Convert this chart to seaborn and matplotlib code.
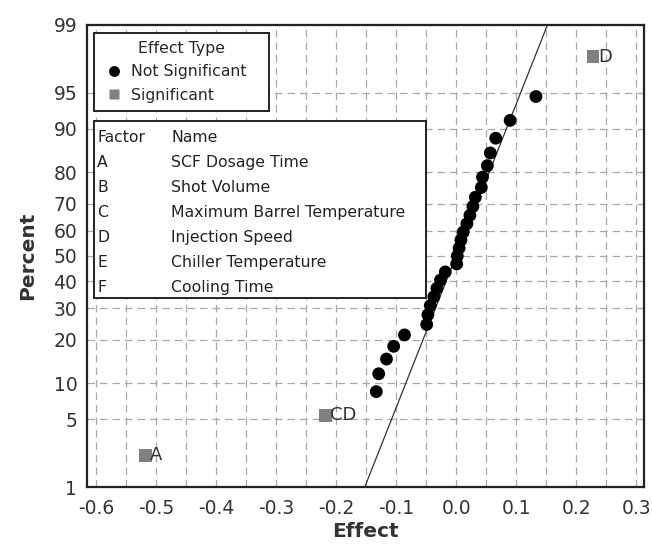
"""
Normal probability plot of the standardized effects (Minitab style)
"""

import numpy as np
import pandas as pd
import matplotlib
matplotlib.use("Agg")
import matplotlib.pyplot as plt
from matplotlib.ticker import MultipleLocator, FixedLocator
from matplotlib.patches import Rectangle
import seaborn as sns
from statistics import NormalDist

# ── data ──────────────────────────────────────────────────────────────────────
effects = [
    -0.518, -0.218, -0.133, -0.129, -0.116, -0.104, -0.086, -0.049,
    -0.047, -0.043, -0.037, -0.032, -0.026, -0.018, 0.001, 0.002,
    0.005, 0.008, 0.012, 0.018, 0.023, 0.028, 0.032, 0.042,
    0.044, 0.052, 0.057, 0.066, 0.090, 0.133, 0.228,
]
effect_type = ["Significant", "Significant"] + ["Not Significant"] * 28 + ["Significant"]
point_labels = ["A", "CD"] + [""] * 28 + ["D"]

line_sigma = 0.0654   # slope of the reference line (Lenth PSE)

factors = ["A", "B", "C", "D", "E", "F"]
factor_names = ["SCF Dosage Time", "Shot Volume", "Maximum Barrel Temperature",
                "Injection Speed", "Chiller Temperature", "Cooling Time"]

y_ticks = [1, 5, 10, 20, 30, 40, 50, 60, 70, 80, 90, 95, 99]
x_ticks = [-0.6, -0.5, -0.4, -0.3, -0.2, -0.1, 0.0, 0.1, 0.2, 0.3]

# ── normal probability scale ─────────────────────────────────────────────────
_nd = NormalDist()
_ppf = np.vectorize(lambda v: _nd.inv_cdf(v), otypes=[float])
_cdf = np.vectorize(lambda v: _nd.cdf(v), otypes=[float])


def pct_to_z(p):
    p = np.clip(np.asarray(p, dtype=float), 1e-9, 100 - 1e-9)
    return _ppf(p / 100.0)


def z_to_pct(z):
    return _cdf(np.asarray(z, dtype=float)) * 100.0


n = len(effects)
df = pd.DataFrame({"Effect": effects, "Effect Type": effect_type, "label": point_labels})
df["rank"] = np.arange(1, n + 1)
df["Percent"] = 100.0 * (df["rank"] - 0.3) / (n + 0.4)

line_pct = np.array([1.0, 99.0])
line_eff = line_sigma * pct_to_z(line_pct)

# ── plot ──────────────────────────────────────────────────────────────────────
sns.set_style("white")
plt.rcParams["font.family"] = ["DejaVu Sans"]
plt.rcParams["axes.unicode_minus"] = False

fig = plt.figure(figsize=(6.52, 5.48), dpi=100)
ax = fig.add_axes([0.1334, 0.1113, 0.8543, 0.8431])
ax.set_yscale("function", functions=(pct_to_z, z_to_pct))

sns.lineplot(x=line_eff, y=line_pct, ax=ax, color="#333333", lw=0.9, zorder=2)

sns.scatterplot(
    data=df, x="Effect", y="Percent", hue="Effect Type", style="Effect Type",
    hue_order=["Not Significant", "Significant"],
    palette={"Not Significant": "black", "Significant": "#808080"},
    markers={"Not Significant": "o", "Significant": "s"},
    s=85, edgecolor="none", ax=ax, zorder=3, clip_on=False,
)

for _, r in df[df["label"] != ""].iterrows():
    ax.annotate(r["label"], (r["Effect"], r["Percent"]), xytext=(3.5, 0),
                textcoords="offset points", va="center", ha="left",
                fontsize=13, color="#333333")

ax.set_xlim(-0.615, 0.313)
ax.set_ylim(1, 99)
ax.yaxis.set_major_locator(FixedLocator(y_ticks))
ax.set_yticklabels([str(v) for v in y_ticks])
ax.yaxis.set_minor_locator(FixedLocator([]))
ax.set_xticks(x_ticks)
ax.set_xticklabels([f"{v:.1f}" for v in x_ticks])
ax.xaxis.set_minor_locator(MultipleLocator(0.05))

grid_kw = dict(color="#a8a8a8", linestyle=(0, (6, 4)), linewidth=0.9)
ax.grid(True, which="major", axis="y", **grid_kw)
ax.grid(True, which="both", axis="x", **grid_kw)
ax.set_axisbelow(True)

ax.tick_params(axis="both", which="major", direction="out", length=5, width=1.2,
               colors="#222222", labelsize=13.5, labelcolor="#333333")
ax.tick_params(axis="y", which="major", pad=2)
ax.tick_params(axis="x", which="minor", length=0)
for s in ax.spines.values():
    s.set_color("#222222")
    s.set_linewidth(1.6)

ax.set_xlabel("Effect", fontsize=14.5, fontweight="bold", color="#333333", labelpad=3)
ax.set_ylabel("Percent", fontsize=14.5, fontweight="bold", color="#333333", labelpad=12)

# legend: effect type
leg = ax.legend(title="Effect Type", loc="upper left",
                bbox_to_anchor=(0.0126, 0.807, 0.314, 0.176), mode="expand",
                frameon=True, fancybox=False, edgecolor="#222222", fontsize=11.3,
                title_fontsize=11.3, borderpad=0.5, handletextpad=0.25,
                labelspacing=0.55, borderaxespad=0, markerscale=0.85,
                handlelength=1.6)
leg.get_frame().set_linewidth(1.4)
leg.get_frame().set_alpha(1)
leg.set_zorder(5)

# factor table
box_l, box_r, box_t, box_b = 0.0126, 0.6086, 0.7922, 0.4091
ax.add_patch(Rectangle((box_l, box_b), box_r - box_l, box_t - box_b,
                       transform=ax.transAxes, facecolor="white",
                       edgecolor="#222222", lw=1.4, zorder=5))
rows = [("Factor", "Name")] + list(zip(factors, factor_names))
for i, (f, nm) in enumerate(rows):
    yy = 0.757 - i * 0.0541
    ax.text(0.0185, yy, f, transform=ax.transAxes, fontsize=11.3,
            va="center", ha="left", color="#222222", zorder=6)
    ax.text(0.151, yy, nm, transform=ax.transAxes, fontsize=11.3,
            va="center", ha="left", color="#222222", zorder=6)

plt.savefig("out.png", dpi=100)
plt.close()
